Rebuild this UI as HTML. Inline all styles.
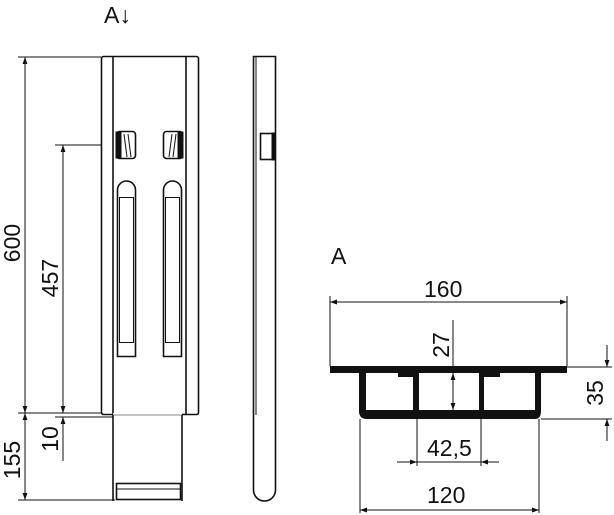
<!DOCTYPE html>
<html><head><meta charset="utf-8"><style>
html,body{margin:0;padding:0;background:#fff;width:614px;height:515px;overflow:hidden}
svg{display:block}
text{font-family:"Liberation Sans",sans-serif;font-size:23px;fill:#111}
</style></head><body>
<svg width="614" height="515" viewBox="0 0 614 515">
<defs>
<marker id="a" viewBox="0 0 10 10" refX="10" refY="5" markerWidth="10" markerHeight="7" orient="auto-start-reverse" markerUnits="userSpaceOnUse"><path d="M0,1.5 L10,5 L0,8.5 Z" fill="#111"/></marker>
</defs>
<g stroke="#111" fill="none" stroke-width="1">
<rect x="101.5" y="56.5" width="97" height="358" rx="2" stroke-width="1.6"/>
<line x1="113" y1="56" x2="113" y2="497" stroke-width="1.6"/>
<line x1="186" y1="56" x2="186" y2="414" stroke-width="1.6"/>
<line x1="182" y1="414" x2="182" y2="497" stroke-width="1.6"/>
<line x1="113" y1="414" x2="182" y2="414" stroke="#fff" stroke-width="1.5"/>
<rect x="116.5" y="483.5" width="64" height="16" stroke-width="1.6"/>
<line x1="117" y1="489" x2="180" y2="489"/>
<line x1="113" y1="497" x2="113" y2="501" stroke-width="1.6"/>
<line x1="182" y1="497" x2="182" y2="501" stroke-width="1.6"/>
<rect x="116.5" y="131.5" width="19" height="27" rx="3" stroke-width="1.6"/>
<rect x="116" y="132" width="5" height="26" fill="#111"/>
<line x1="124" y1="134" x2="127" y2="157"/><line x1="128" y1="134" x2="131" y2="157"/>
<rect x="163.5" y="131.5" width="19" height="27" rx="3" stroke-width="1.6"/>
<rect x="178" y="132" width="5" height="26" fill="#111"/>
<line x1="172" y1="134" x2="169" y2="157"/><line x1="176" y1="134" x2="173" y2="157"/>
<path d="M117.5,356.5 V190 A9,9 0 0 1 135.5,190 V356.5 Z" stroke-width="1.6"/>
<rect x="119.5" y="197.5" width="14" height="145"/>
<path d="M163.5,356.5 V190 A9,9 0 0 1 181.5,190 V356.5 Z" stroke-width="1.6"/>
<rect x="165.5" y="197.5" width="14" height="145"/>
<path d="M253.5,56.5 H275.5 V490 A11,11 0 0 1 253.5,490 Z" stroke-width="1.6"/>
<line x1="256" y1="56" x2="256" y2="415"/>
<rect x="260.5" y="133.5" width="13" height="26" stroke-width="1.6"/>
<rect x="272" y="133" width="3" height="27" fill="#111"/>
<line x1="18" y1="57" x2="101" y2="57"/>
<line x1="18" y1="413" x2="101" y2="413"/>
<line x1="18" y1="500" x2="115" y2="500"/>
<line x1="55" y1="145" x2="101" y2="145"/>
<line x1="55" y1="417" x2="113" y2="417"/>
<line x1="25" y1="57" x2="25" y2="413" marker-start="url(#a)" marker-end="url(#a)"/>
<line x1="25" y1="413" x2="25" y2="500" marker-start="url(#a)" marker-end="url(#a)"/>
<line x1="63" y1="145" x2="63" y2="413" marker-start="url(#a)" marker-end="url(#a)"/>
<line x1="63" y1="461" x2="63" y2="417" marker-end="url(#a)"/>
<rect x="330" y="366" width="237" height="7" fill="#111" stroke="none"/>
<path d="M359,373 V411 Q359,419 367,419 H535 Q541,419 541,411 V373 H535 V410 H484 V373 H479 V410 H419 V373 H413 V410 H366 V373 Z" fill="#111" stroke="none"/>
<rect x="398" y="373" width="15" height="4" fill="#111" stroke="none"/>
<rect x="484" y="373" width="16" height="4" fill="#111" stroke="none"/>
<line x1="330" y1="296" x2="330" y2="366"/>
<line x1="567" y1="296" x2="567" y2="366"/>
<line x1="330" y1="302" x2="567" y2="302" marker-start="url(#a)" marker-end="url(#a)"/>
<line x1="453" y1="320" x2="453" y2="366"/>
<line x1="453" y1="373" x2="453" y2="410" marker-start="url(#a)" marker-end="url(#a)"/>
<line x1="567" y1="367" x2="612" y2="367"/>
<line x1="541" y1="419" x2="612" y2="419"/>
<line x1="607" y1="345" x2="607" y2="367" marker-end="url(#a)"/>
<line x1="607" y1="441" x2="607" y2="419" marker-end="url(#a)"/>
<line x1="417" y1="419" x2="417" y2="466"/>
<line x1="481" y1="419" x2="481" y2="466"/>
<line x1="397" y1="462" x2="417" y2="462" marker-end="url(#a)"/>
<line x1="417" y1="462" x2="481" y2="462"/>
<line x1="499" y1="462" x2="481" y2="462" marker-end="url(#a)"/>
<line x1="360" y1="419" x2="360" y2="513"/>
<line x1="539" y1="419" x2="539" y2="513"/>
<line x1="360" y1="510" x2="539" y2="510" marker-start="url(#a)" marker-end="url(#a)"/>
</g>
<text x="104" y="23">A↓</text>
<text x="331" y="264">A</text>
<text x="424" y="297">160</text>
<text x="427" y="456">42,5</text>
<text x="427" y="503">120</text>
<text transform="translate(449,345) rotate(-90)" text-anchor="middle">27</text>
<text transform="translate(603,393) rotate(-90)" text-anchor="middle">35</text>
<text transform="translate(20,243) rotate(-90)" text-anchor="middle">600</text>
<text transform="translate(58,278) rotate(-90)" text-anchor="middle">457</text>
<text transform="translate(20,460) rotate(-90)" text-anchor="middle">155</text>
<text transform="translate(58,439) rotate(-90)" text-anchor="middle">10</text>
</svg>
</body></html>
